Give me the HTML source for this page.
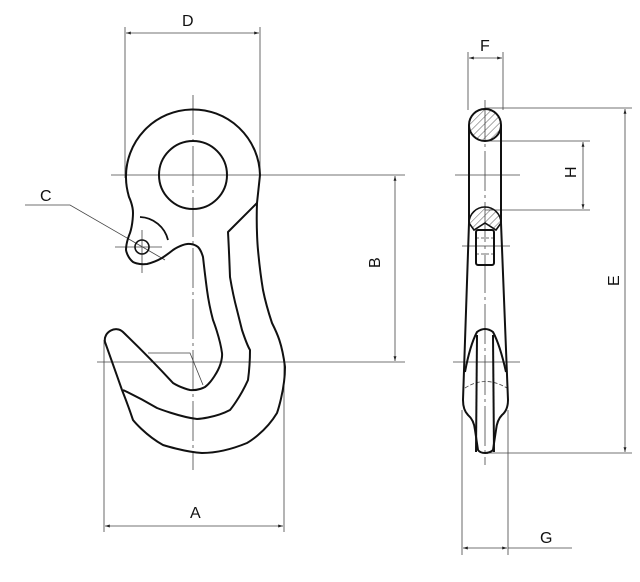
<!DOCTYPE html>
<html><head><meta charset="utf-8"><style>
html,body{margin:0;padding:0;background:#fff;}
svg{display:block;}
text{font-family:"Liberation Sans",sans-serif;font-size:16px;fill:#111;}
</style></head><body>
<svg width="640" height="582" viewBox="0 0 640 582" xmlns="http://www.w3.org/2000/svg">
<defs>
<pattern id="h" width="5" height="5" patternUnits="userSpaceOnUse" patternTransform="rotate(45)">
<line x1="0" y1="0" x2="0" y2="5" stroke="#333" stroke-width="0.8"/>
</pattern>
<marker id="a" viewBox="0 0 10 10" refX="10" refY="5" markerWidth="8" markerHeight="6" orient="auto-start-reverse">
<path d="M0,2 L10,5 L0,8 z" fill="#222"/></marker>
</defs>
<g stroke="#444" stroke-width="0.8" fill="none">
<line x1="125" y1="27" x2="125" y2="178"/><line x1="260" y1="27" x2="260" y2="178"/>
<line x1="126" y1="33" x2="259" y2="33" marker-start="url(#a)" marker-end="url(#a)"/>
<line x1="111" y1="175" x2="405" y2="175"/>
<line x1="193" y1="95" x2="193" y2="470" stroke-dasharray="40,4,3,4"/>
<line x1="97" y1="362" x2="405" y2="362"/>
<line x1="395" y1="176" x2="395" y2="361" marker-start="url(#a)" marker-end="url(#a)"/>
<line x1="104" y1="340" x2="104" y2="532"/><line x1="284" y1="360" x2="284" y2="532"/>
<line x1="105" y1="526" x2="283" y2="526" marker-start="url(#a)" marker-end="url(#a)"/>
<polyline points="25,205 70,205 165,260"/>
<line x1="115" y1="247" x2="162" y2="247"/><line x1="142" y1="230" x2="142" y2="273"/>
<polyline points="148,353 190,353 203,385"/>
</g>
<g stroke="#111" stroke-width="2" fill="none" stroke-linejoin="round">
<circle cx="193" cy="175" r="34"/>
<circle cx="142" cy="247" r="7" stroke-width="1.6"/>
<path d="M140,217 A30,30 0 0 1 168,240" stroke-width="1.8"/>
<path d="M126,178 A67,67 0 1 1 260,175 L257,203 C256,230 258,250 258,250 C260,272 263,290 263,290 C266,305 272,323 272,323 C277,333 282,343 285,367 C285,390 277,413 277,413 C265,433 247,443 247,443 C230,450 215,453 202,453 C185,452 163,445 163,445 C145,435 133,420 133,420 C128,405 122,390 122,390 C115,370 105,342 105,342 C103,332 116,325 123,332 C150,358 173,383 173,383 C181,388 190,390 190,390 C198,391 205,387 205,387 C212,382 218,370 218,370 C223,360 222,353 222,353 C220,338 213,320 213,320 C209,305 207,290 207,290 C205,275 203,257 203,257 C201,250 198,247 198,247 C193,243 187,244 187,244 C180,245 173,250 173,250 C168,254 162,258 162,258 C155,262 147,264 147,264 C138,265 133,262 133,262 C127,257 126,250 126,250 C126,242 130,233 130,233 C133,224 133,213 133,213 C133,205 129,197 129,197 C127,190 126,185 126,178 Z"/>
<path d="M257,203 L228,232 C229,250 230,277 230,277 C233,295 237,310 237,310 C240,322 242,330 242,330 C247,345 250,350 250,350 C250,365 248,380 248,380 C240,398 230,410 230,410 C215,418 197,419 197,419 C180,417 157,408 157,408 C140,398 123,390 123,390"/>
</g>
<text x="182" y="26">D</text>
<text x="40" y="201">C</text>
<text x="190" y="518">A</text>
<text x="0" y="0" transform="translate(380,268) rotate(-90)">B</text>

<g stroke="#444" stroke-width="0.8" fill="none">
<line x1="468" y1="52" x2="468" y2="110"/><line x1="503" y1="52" x2="503" y2="110"/>
<line x1="469" y1="58" x2="502" y2="58" marker-start="url(#a)" marker-end="url(#a)"/>
<line x1="485" y1="100" x2="485" y2="465" stroke-dasharray="40,4,3,4"/>
<line x1="485" y1="108" x2="632" y2="108"/>
<line x1="485" y1="141" x2="590" y2="141"/>
<line x1="485" y1="210" x2="590" y2="210"/>
<line x1="485" y1="453" x2="632" y2="453"/>
<line x1="583" y1="142" x2="583" y2="209" marker-start="url(#a)" marker-end="url(#a)"/>
<line x1="625" y1="109" x2="625" y2="452" marker-start="url(#a)" marker-end="url(#a)"/>
<line x1="455" y1="175" x2="520" y2="175"/>
<line x1="462" y1="246" x2="510" y2="246"/>
<line x1="453" y1="362" x2="520" y2="362"/>
<line x1="462" y1="410" x2="462" y2="555"/><line x1="508" y1="410" x2="508" y2="555"/>
<line x1="463" y1="548" x2="507" y2="548" marker-start="url(#a)" marker-end="url(#a)"/>
<line x1="508" y1="548" x2="572" y2="548"/>
<path d="M465,388 Q485,375 507,388" stroke-dasharray="4,2"/>
<line x1="476" y1="238" x2="494" y2="238" stroke-dasharray="3,2"/>
<line x1="476" y1="254" x2="494" y2="254" stroke-dasharray="3,2"/>
</g>
<circle cx="485" cy="125" r="16" fill="url(#h)" stroke="#111" stroke-width="2"/>
<path d="M469,223 A16,16 0 0 1 501,223 L496,230 L485,223 L474,230 Z" fill="url(#h)" stroke="#111" stroke-width="1.6"/>
<g stroke="#111" stroke-width="2" fill="none" stroke-linejoin="round">
<line x1="469" y1="125" x2="469" y2="223"/><line x1="501" y1="125" x2="501" y2="223"/>
<path d="M469,223 L463,400 Q463,410 468,415 Q474,420 475,430 L478,450 Q480,453 485,453 Q490,453 493,450 L496,430 Q497,420 502,415 Q508,410 508,400 L501,223"/>
<rect x="476" y="230" width="18" height="35" rx="2"/>
<path d="M465,372 Q470,345 477,332 Q485,326 493,332 Q500,345 506,372"/>
<line x1="477" y1="335" x2="476" y2="452"/><line x1="493" y1="335" x2="494" y2="452"/>
</g>
<text x="480" y="51">F</text>
<text x="540" y="543">G</text>
<text x="0" y="0" transform="translate(576,178) rotate(-90)">H</text>
<text x="0" y="0" transform="translate(619,286) rotate(-90)">E</text>
</svg>
</body></html>
